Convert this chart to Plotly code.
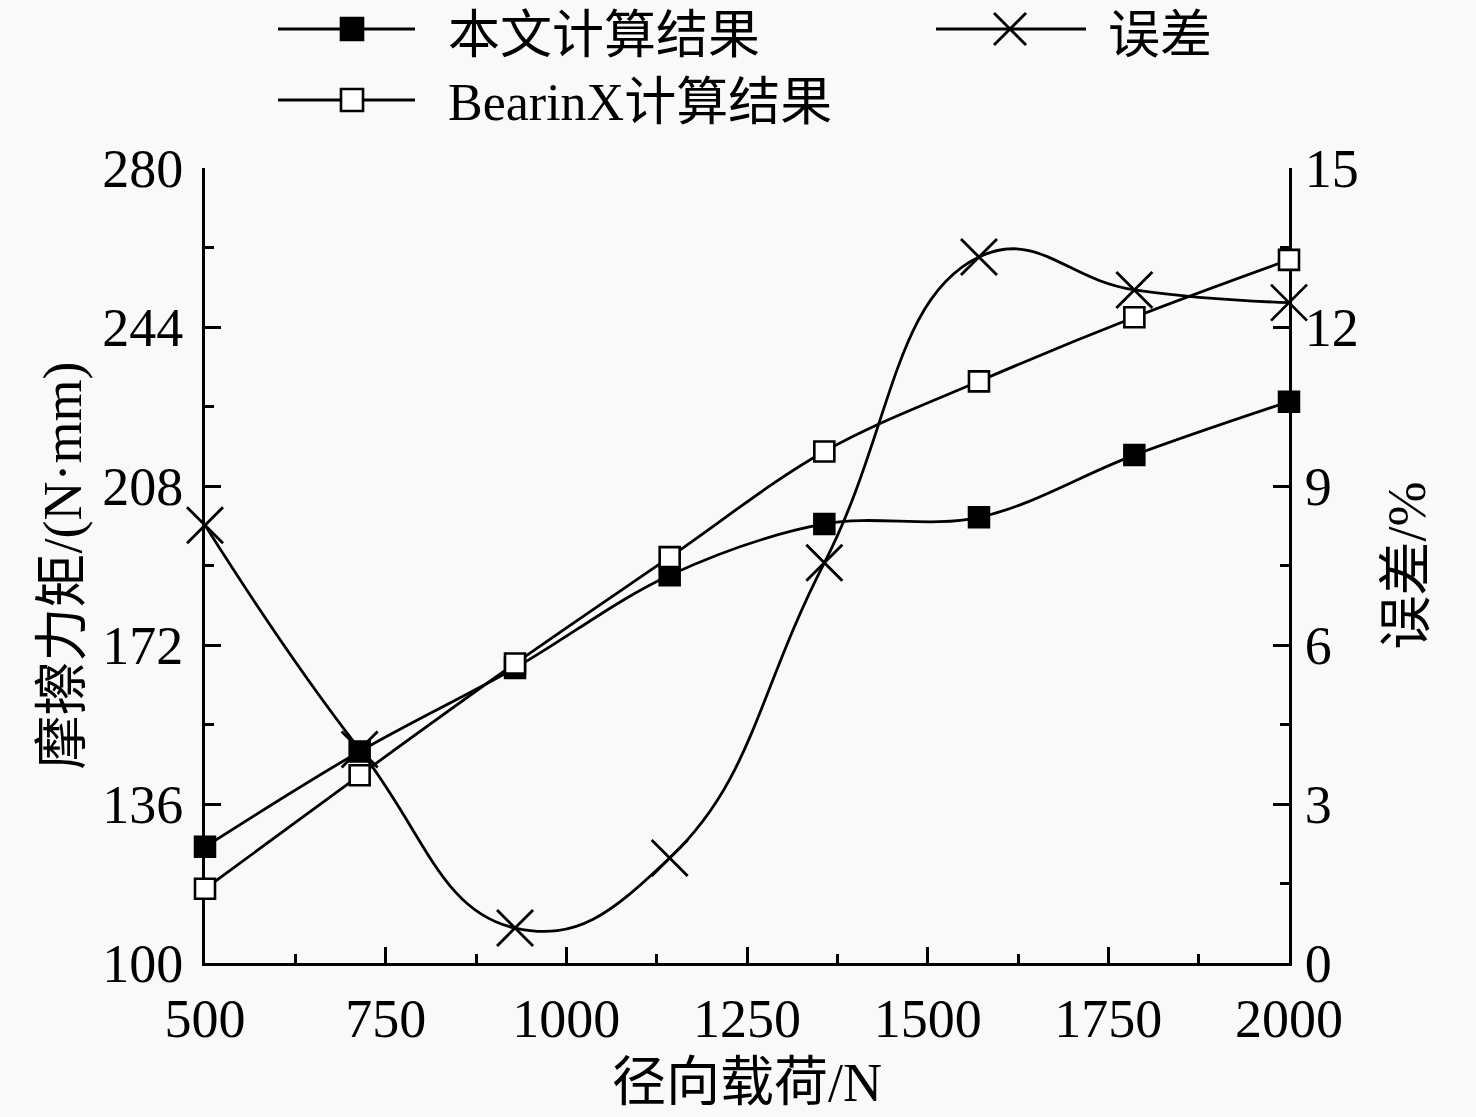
import plotly.graph_objects as go

# ---------------- data ----------------
radial_load = [500, 714, 929, 1143, 1357, 1571, 1786, 2000]
torque_calc = [126.3, 147.9, 166.8, 187.8, 199.4, 200.9, 215.0, 227.1]
torque_bearinx = [116.8, 142.5, 167.8, 191.9, 215.8, 231.7, 246.2, 259.2]
error_pct = [8.26, 4.03, 0.66, 1.98, 7.55, 13.32, 12.70, 12.46]

x_ticks = [500, 750, 1000, 1250, 1500, 1750, 2000]
y_ticks = [100, 136, 172, 208, 244, 280]
y2_ticks = [0, 3, 6, 9, 12, 15]

name_calc = "本文计算结果"
name_err = "误差"
name_bx = "BearinX计算结果"

# ---------------- style ----------------
W, H = 1476, 1117
L, R, T, B = 205, 1289, 168, 963  # plot area in px
BG = "#f9f9f9"
FONT = "Liberation Serif, Noto Sans CJK SC, serif"
LW = 2.8


def px(xp, yp):
    return (xp - L) / (R - L), (B - yp) / (B - T)


fig = go.Figure()

fig.add_trace(go.Scatter(
    x=radial_load, y=torque_calc, name=name_calc, mode="lines+markers",
    line=dict(color="black", width=LW, shape="spline", smoothing=1.0),
    marker=dict(symbol="square", size=21, color="black",
                line=dict(color="black", width=1.5)),
    cliponaxis=False, showlegend=False))

fig.add_trace(go.Scatter(
    x=radial_load, y=torque_bearinx, name=name_bx, mode="lines+markers",
    line=dict(color="black", width=LW, shape="spline", smoothing=1.0),
    marker=dict(symbol="square", size=20, color="white",
                line=dict(color="black", width=2.6)),
    cliponaxis=False, showlegend=False))

fig.add_trace(go.Scatter(
    x=radial_load, y=error_pct, name=name_err, mode="lines+markers",
    yaxis="y2",
    line=dict(color="black", width=LW, shape="spline", smoothing=1.3),
    marker=dict(symbol="x-thin", size=36, color="black",
                line=dict(color="black", width=2.8)),
    cliponaxis=False, showlegend=False))

# ---------------- manual legend ----------------
shapes = []
annotations = []


def legend_line(x0, x1, y):
    a = px(x0, y)
    b = px(x1, y)
    shapes.append(dict(type="line", xref="paper", yref="paper",
                       x0=a[0], y0=a[1], x1=b[0], y1=b[1],
                       line=dict(color="black", width=LW)))


def legend_square(cx, cy, s, fill):
    a = px(cx - s / 2, cy - s / 2)
    b = px(cx + s / 2, cy + s / 2)
    shapes.append(dict(type="rect", xref="paper", yref="paper",
                       x0=a[0], y0=b[1], x1=b[0], y1=a[1],
                       fillcolor=fill, line=dict(color="black", width=2.6)))


def legend_x(cx, cy, s):
    for d in (1, -1):
        a = px(cx - s / 2, cy - d * s / 2)
        b = px(cx + s / 2, cy + d * s / 2)
        shapes.append(dict(type="line", xref="paper", yref="paper",
                           x0=a[0], y0=a[1], x1=b[0], y1=b[1],
                           line=dict(color="black", width=LW)))


def legend_text(x, y, text):
    p = px(x, y)
    annotations.append(dict(xref="paper", yref="paper", x=p[0], y=p[1],
                            text=text, showarrow=False, xanchor="left",
                            yanchor="middle",
                            font=dict(family=FONT, size=52, color="black")))


legend_line(278, 415, 29)
legend_square(352, 29, 22, "black")
legend_text(446, 35, name_calc)

legend_line(936, 1086, 29)
legend_x(1010, 29, 32)
legend_text(1106, 35, name_err)

legend_line(278, 415, 100)
legend_square(352, 100, 22, "white")
legend_text(446, 102, name_bx)

axis_common = dict(
    showline=True, linecolor="black", linewidth=LW,
    ticks="inside", tickcolor="black", tickwidth=LW, ticklen=16,
    showgrid=False, zeroline=False, layer="below traces",
    tickfont=dict(family=FONT, size=54, color="black"),
)

fig.update_layout(
    width=W, height=H,
    margin=dict(l=L, r=W - R, t=T, b=H - B),
    paper_bgcolor=BG, plot_bgcolor=BG,
    font=dict(family=FONT, color="black"),
    shapes=shapes, annotations=annotations,
    xaxis=dict(
        range=[500, 2000], tickvals=x_ticks,
        ticktext=[str(v) for v in x_ticks],
        ticklabelstandoff=6,
        minor=dict(dtick=125, tick0=500, ticks="inside", ticklen=9,
                   tickwidth=LW, tickcolor="black"),
        title=dict(text="径向载荷/N", standoff=16,
                   font=dict(family=FONT, size=54, color="black")),
        **axis_common),
    yaxis=dict(
        range=[100, 280], tickvals=y_ticks,
        ticktext=[str(v) for v in y_ticks],
        ticklabelstandoff=8,
        minor=dict(dtick=18, tick0=100, ticks="inside", ticklen=9,
                   tickwidth=LW, tickcolor="black"),
        title=dict(text="摩擦力矩/(N·mm)", standoff=4,
                   font=dict(family=FONT, size=54, color="black")),
        **axis_common),
    yaxis2=dict(
        range=[0, 15], tickvals=y2_ticks,
        ticktext=[str(v) for v in y2_ticks],
        overlaying="y", side="right", anchor="x",
        ticklabelstandoff=2,
        minor=dict(dtick=1.5, tick0=0, ticks="inside", ticklen=9,
                   tickwidth=LW, tickcolor="black"),
        title=dict(text="误差/%", standoff=30,
                   font=dict(family=FONT, size=54, color="black")),
        **axis_common),
)

fig.write_html(
    "out.html",
    config={"displayModeBar": False},
    post_script=("document.body.style.margin='0';"
                 "document.body.style.background='" + BG + "';"),
)
